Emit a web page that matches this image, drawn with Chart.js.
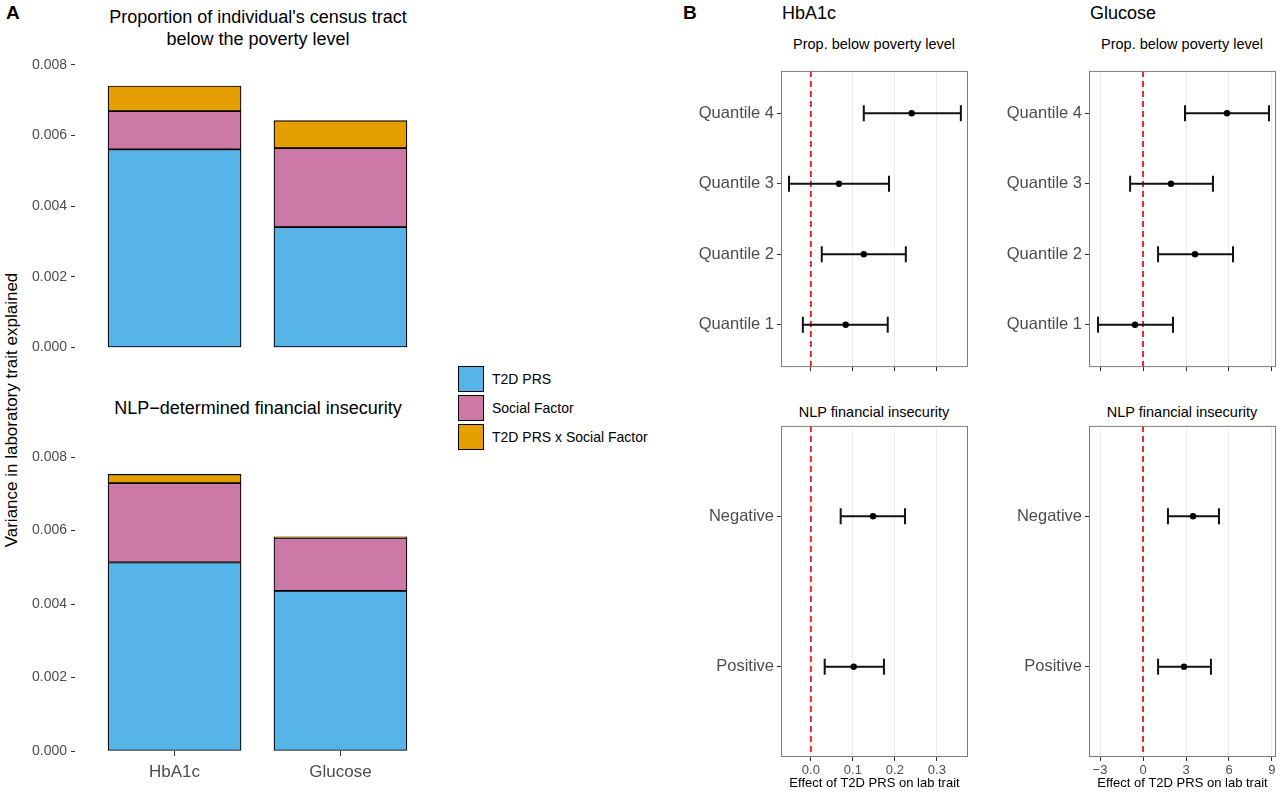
<!DOCTYPE html>
<html><head><meta charset="utf-8">
<script src="https://cdn.jsdelivr.net/npm/chart.js@4"></script>
<style>
body{margin:0;width:1280px;height:795px;background:#fff;font-family:"Liberation Sans",Arial,sans-serif;position:relative;overflow:hidden}
.box{position:absolute}
.t{position:absolute;color:#000;white-space:nowrap}
.lg{position:absolute;left:458px;font-size:14px;display:flex;align-items:center}
.lg span{display:inline-block;width:26px;height:26px;border:1px solid #000;margin-right:8px;box-sizing:border-box}
</style></head><body>
<div class="t" style="left:6px;top:2px;font-size:19px;font-weight:bold">A</div>
<div class="t" style="left:683px;top:2px;font-size:19px;font-weight:bold">B</div>
<div class="t" style="left:258px;top:6px;font-size:18px;text-align:center;transform:translateX(-50%);line-height:22px">Proportion of individual's census tract<br>below the poverty level</div>
<div class="t" style="left:258px;top:398px;font-size:18px;transform:translateX(-50%)">NLP−determined financial insecurity</div>
<div class="t" style="left:12px;top:410px;font-size:17px;transform:translate(-50%,-50%) rotate(-90deg)">Variance in laboratory trait explained</div>
<div class="t" style="left:782px;top:3px;font-size:18px">HbA1c</div>
<div class="t" style="left:1090px;top:3px;font-size:18px">Glucose</div>
<div class="t" style="left:874px;top:36px;font-size:14.5px;transform:translateX(-50%)">Prop. below poverty level</div>
<div class="t" style="left:1182px;top:36px;font-size:14.5px;transform:translateX(-50%)">Prop. below poverty level</div>
<div class="t" style="left:874px;top:404px;font-size:14.5px;transform:translateX(-50%)">NLP financial insecurity</div>
<div class="t" style="left:1182px;top:404px;font-size:14.5px;transform:translateX(-50%)">NLP financial insecurity</div>
<div class="lg" style="top:366px"><span style="background:#56B4E9"></span>T2D PRS</div>
<div class="lg" style="top:395px"><span style="background:#CC79A7"></span>Social Factor</div>
<div class="lg" style="top:424px"><span style="background:#E69F00"></span>T2D PRS x Social Factor</div>
<script>
// ---- data ----
const traits = ["HbA1c","Glucose"];
const povPRS = [0.00561, 0.00341];
const povSocial = [0.00108, 0.00223];
const povInter = [0.00071, 0.00078];
const nlpPRS = [0.00513, 0.00436];
const nlpSocial = [0.00216, 0.00144];
const nlpInter = [0.00024, 0.00003];
const varTicks = [0, 0.002, 0.004, 0.006, 0.008];

const quantLabels = ["Quantile 1","Quantile 2","Quantile 3","Quantile 4"];
const nlpLabels = ["Positive","Negative"];
const hbaPovEst = [0.083, 0.126, 0.067, 0.240];
const hbaPovLo  = [-0.019, 0.026, -0.052, 0.126];
const hbaPovHi  = [0.183, 0.226, 0.186, 0.357];
const hbaNlpEst = [0.102, 0.148];
const hbaNlpLo  = [0.033, 0.071];
const hbaNlpHi  = [0.174, 0.224];
const gluPovEst = [-0.56, 3.63, 1.95, 5.86];
const gluPovLo  = [-3.14, 1.05, -0.90, 2.93];
const gluPovHi  = [2.09, 6.28, 4.88, 8.79];
const gluNlpEst = [2.86, 3.49];
const gluNlpLo  = [1.05, 1.74];
const gluNlpHi  = [4.74, 5.30];
const hbaTicks = [0, 0.1, 0.2, 0.3];
const gluTicks = [-3, 0, 3, 6, 9];

Chart.defaults.font.family = '"Liberation Sans", Arial, sans-serif';
Chart.defaults.animation = false;

function box(l,t,w,h){const d=document.createElement('div');d.className='box';d.style.cssText=`left:${l}px;top:${t}px;width:${w}px;height:${h}px`;const c=document.createElement('canvas');d.appendChild(c);document.body.appendChild(d);return c;}

function barChart(l,t,areaH,xH,prs,soc,inter,showX){
  const yW=65, areaW=365, padT=12;
  const c=box(l,t-padT,yW+areaW+2,areaH+xH+padT);
  const mk=(arr,label,col)=>({label,data:arr.map((v,i)=>({x:i+1,y:v})),backgroundColor:col,borderColor:'#000',borderWidth:1.2,barThickness:133,borderSkipped:false});
  new Chart(c,{type:'bar',data:{datasets:[mk(prs,'T2D PRS','#56B4E9'),mk(soc,'Social Factor','#CC79A7'),mk(inter,'T2D PRS x Social Factor','#E69F00')]},
   options:{responsive:true,maintainAspectRatio:false,layout:{autoPadding:false,padding:{top:padT,right:2,left:0,bottom:0}},
    plugins:{legend:{display:false},tooltip:{enabled:false}},
    scales:{
     x:{type:'linear',stacked:true,offset:false,min:0.4,max:2.6,display:true,
        afterBuildTicks:a=>{a.ticks=[{value:1},{value:2}]},
        afterFit:a=>{a.height=xH},
        ticks:{display:showX,callback:v=>traits[v-1],font:{size:17},color:'#4d4d4d',padding:6},
        grid:{drawOnChartArea:false,drawTicks:showX,tickLength:5,color:'#333',offset:false},border:{display:false}},
     y:{stacked:true,min:0,max:0.00818,
        afterBuildTicks:a=>{a.ticks=varTicks.map(v=>({value:v}))},
        afterFit:a=>{a.width=yW},
        ticks:{callback:v=>v.toFixed(3),font:{size:14},color:'#4d4d4d',padding:4},
        grid:{drawOnChartArea:false,tickLength:4,color:'#333'},border:{display:false}}
    }}});
}
barChart(10,58,302,0,povPRS,povSocial,povInter,false);
barChart(10,450,301,45,nlpPRS,nlpSocial,nlpInter,true);

const errPlugin={id:'err',afterDatasetsDraw(ch,args,o){
  const x=ch.scales.x,y=ch.scales.y,ctx=ch.ctx,a=ch.chartArea;
  ctx.save();
  ctx.strokeStyle='#e31a1c';ctx.lineWidth=1.8;ctx.setLineDash([6,4]);
  const zx=x.getPixelForValue(0);ctx.beginPath();ctx.moveTo(zx,a.top);ctx.lineTo(zx,a.bottom);ctx.stroke();
  ctx.setLineDash([]);ctx.strokeStyle='#111';ctx.lineWidth=2;
  o.lo.forEach((lo,i)=>{const py=y.getPixelForValue(i+1),x1=x.getPixelForValue(lo),x2=x.getPixelForValue(o.hi[i]);
    ctx.beginPath();ctx.moveTo(x1,py);ctx.lineTo(x2,py);ctx.moveTo(x1,py-8);ctx.lineTo(x1,py+8);ctx.moveTo(x2,py-8);ctx.lineTo(x2,py+8);ctx.stroke();});
  ctx.strokeStyle='#7f7f7f';ctx.lineWidth=1;ctx.strokeRect(a.left+0.5,a.top+0.5,a.width-1,a.height-1);
  ctx.restore();
  ctx.save();ctx.fillStyle='#000';
  o.est.forEach((v,i)=>{ctx.beginPath();ctx.arc(x.getPixelForValue(v),y.getPixelForValue(i+1),3.2,0,7);ctx.fill();});
  ctx.restore();
}};

function forest(areaL,areaT,areaW,areaH,xH,labels,est,lo,hi,xmin,xmax,xt,showX){
  const yW=100;
  const c=box(areaL-yW,areaT,yW+areaW+6,areaH+xH);
  new Chart(c,{type:'scatter',data:{datasets:[{data:est.map((v,i)=>({x:v,y:i+1})),pointRadius:0,pointHoverRadius:0}]},plugins:[errPlugin],
   options:{responsive:true,maintainAspectRatio:false,layout:{autoPadding:false,padding:{top:0,right:6,left:0,bottom:0}},
    plugins:{legend:{display:false},tooltip:{enabled:false},err:{est,lo,hi}},
    scales:{
     x:{type:'linear',min:xmin,max:xmax,afterBuildTicks:a=>{a.ticks=xt.map(v=>({value:v}))},
        afterFit:a=>{a.height=xH},
        title:{display:showX,text:'Effect of T2D PRS on lab trait',font:{size:13},color:'#000',padding:{top:0}},
        ticks:{display:showX,callback:v=>(xt===hbaTicks?v.toFixed(1):String(v).replace('-','−')),font:{size:13},color:'#4d4d4d',padding:2},
        grid:{color:'#ebebeb',lineWidth:1,tickColor:'#333',tickLength:4,drawTicks:true},border:{display:false}},
     y:{type:'linear',min:0.4,max:labels.length+0.6,afterBuildTicks:a=>{a.ticks=labels.map((l,i)=>({value:i+1}))},
        afterFit:a=>{a.width=yW},
        ticks:{callback:v=>labels[v-1],font:{size:16.5},color:'#4d4d4d',padding:3},
        grid:{drawOnChartArea:false,tickLength:4,color:'#333'},border:{display:false}}
    }}});
}
forest(781,58,187,322,0,quantLabels,hbaPovEst,hbaPovLo,hbaPovHi,-0.071,0.374,hbaTicks,false);
forest(781,413,187,344,38,nlpLabels,hbaNlpEst,hbaNlpLo,hbaNlpHi,-0.071,0.374,hbaTicks,true);
forest(1089,58,187,322,0,quantLabels,gluPovEst,gluPovLo,gluPovHi,-3.77,9.28,gluTicks,false);
forest(1089,413,187,344,38,nlpLabels,gluNlpEst,gluNlpLo,gluNlpHi,-3.77,9.28,gluTicks,true);
</script></body></html>
